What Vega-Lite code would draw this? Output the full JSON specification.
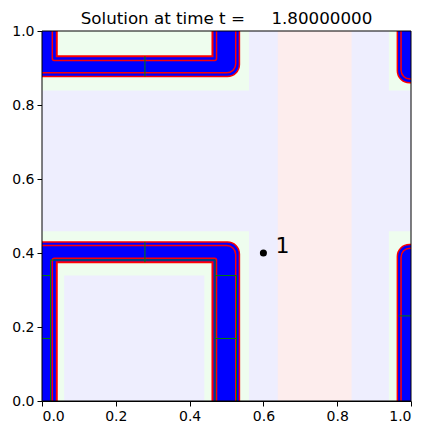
{
  "$schema": "https://vega.github.io/schema/vega-lite/v6.json",
  "width": 369,
  "height": 370,
  "autosize": "none",
  "padding": {"left": 42, "top": 31, "right": 21, "bottom": 34},
  "background": "white",
  "title": {
    "text": "Solution at time t = \u00a0\u00a0\u00a0\u00a01.80000000",
    "font": "DejaVu Sans",
    "fontSize": 16.7,
    "fontWeight": "normal",
    "color": "black",
    "anchor": "middle",
    "baseline": "alphabetic",
    "frame": "group",
    "offset": -17
  },
  "config": {
    "view": {"stroke": null},
    "axis": {
      "labelFont": "DejaVu Sans",
      "labelFontSize": 14,
      "labelColor": "black",
      "tickColor": "black",
      "domainColor": "black",
      "tickSize": 5,
      "tickWidth": 1,
      "domainWidth": 1,
      "labelPadding": 3,
      "grid": false,
      "zindex": 1
    }
  },
  "datasets": {
    "base": [{"x": 0, "x2": 1, "y": 0, "y2": 1}],
    "band": [{"x": 0.639, "x2": 0.839, "y": 0, "y2": 1}],
    "level2": [
      {"x": 0, "x2": 0.561, "y": 0, "y2": 0.459},
      {"x": 0, "x2": 0.561, "y": 0.839, "y2": 1},
      {"x": 0.94, "x2": 1, "y": 0, "y2": 0.459},
      {"x": 0.94, "x2": 1, "y": 0.839, "y2": 1}
    ],
    "outer": [
      {"x": -0.037, "x2": 0.535, "y": -0.123, "y2": 0.43},
      {"x": -0.037, "x2": 0.535, "y": 0.877, "y2": 1.43},
      {"x": 0.963, "x2": 1.535, "y": -0.14, "y2": 0.423},
      {"x": 0.963, "x2": 1.535, "y": 0.86, "y2": 1.423}
    ],
    "outer2": [
      {"x": -0.027, "x2": 0.525, "y": -0.113, "y2": 0.42},
      {"x": -0.027, "x2": 0.525, "y": 0.887, "y2": 1.42},
      {"x": 0.973, "x2": 1.525, "y": -0.13, "y2": 0.413},
      {"x": 0.973, "x2": 1.525, "y": 0.87, "y2": 1.413}
    ],
    "inner2": [
      {"x": 0.028, "x2": 0.473, "y": -0.08, "y2": 0.386},
      {"x": 0.028, "x2": 0.473, "y": 0.92, "y2": 1.386}
    ],
    "inner": [
      {"x": 0.04, "x2": 0.462, "y": -0.068, "y2": 0.375},
      {"x": 0.04, "x2": 0.462, "y": 0.932, "y2": 1.375}
    ],
    "core": [{"x": 0.06, "x2": 0.44, "y": 0, "y2": 0.339}],
    "gridlines": [
      {"x": 0.279, "x2": 0.279, "y": 0.375, "y2": 0.43},
      {"x": 0.279, "x2": 0.279, "y": 0.877, "y2": 0.932},
      {"x": 0, "x2": 0.023, "y": 0.339, "y2": 0.339},
      {"x": 0, "x2": 0.023, "y": 0.169, "y2": 0.169},
      {"x": 0.469, "x2": 0.527, "y": 0.339, "y2": 0.339},
      {"x": 0.469, "x2": 0.527, "y": 0.169, "y2": 0.169},
      {"x": 0.967, "x2": 1, "y": 0.23, "y2": 0.23},
      {"x": 0.023, "x2": 0.023, "y": 0, "y2": 0.381},
      {"x": 0.469, "x2": 0.469, "y": 0, "y2": 0.381},
      {"x": 0.023, "x2": 0.469, "y": 0.381, "y2": 0.381},
      {"x": 0.527, "x2": 0.527, "y": 0, "y2": 0.339}
    ],
    "gauge": [{"x": 0.6, "y": 0.4, "label": "1"}]
  },
  "encoding": {
    "x": {
      "field": "x",
      "type": "quantitative",
      "scale": {"domain": [0, 1], "nice": false, "zero": false},
      "axis": {"values": [0, 0.2, 0.4, 0.6, 0.8, 1], "format": ".1f", "title": null}
    },
    "y": {
      "field": "y",
      "type": "quantitative",
      "scale": {"domain": [0, 1], "nice": false, "zero": false},
      "axis": {"values": [0, 0.2, 0.4, 0.6, 0.8, 1], "format": ".1f", "title": null}
    }
  },
  "layer": [
    {
      "data": {"name": "base"},
      "mark": {"type": "rect", "fill": "#eeeefe", "clip": true},
      "encoding": {"x2": {"field": "x2"}, "y2": {"field": "y2"}}
    },
    {
      "data": {"name": "band"},
      "mark": {"type": "rect", "fill": "#fdeded", "clip": true},
      "encoding": {"x2": {"field": "x2"}, "y2": {"field": "y2"}}
    },
    {
      "data": {"name": "level2"},
      "mark": {"type": "rect", "fill": "#eefdee", "clip": true},
      "encoding": {"x2": {"field": "x2"}, "y2": {"field": "y2"}}
    },
    {
      "data": {"name": "outer"},
      "mark": {"type": "rect", "fill": "#0000ff", "stroke": "#ff0000", "strokeWidth": 1.5, "cornerRadius": 12, "clip": true},
      "encoding": {"x2": {"field": "x2"}, "y2": {"field": "y2"}}
    },
    {
      "data": {"name": "outer2"},
      "mark": {"type": "rect", "fill": null, "fillOpacity": 0, "stroke": "#ff0000", "strokeWidth": 1.5, "cornerRadius": 9, "clip": true},
      "encoding": {"x2": {"field": "x2"}, "y2": {"field": "y2"}}
    },
    {
      "data": {"name": "inner2"},
      "mark": {"type": "rect", "fill": null, "fillOpacity": 0, "stroke": "#ff0000", "strokeWidth": 1.5, "cornerRadius": 2, "clip": true},
      "encoding": {"x2": {"field": "x2"}, "y2": {"field": "y2"}}
    },
    {
      "data": {"name": "inner"},
      "mark": {"type": "rect", "fill": "#eefdee", "stroke": "#ff0000", "strokeWidth": 2, "clip": true},
      "encoding": {"x2": {"field": "x2"}, "y2": {"field": "y2"}}
    },
    {
      "data": {"name": "core"},
      "mark": {"type": "rect", "fill": "#eeeefe", "clip": true},
      "encoding": {"x2": {"field": "x2"}, "y2": {"field": "y2"}}
    },
    {
      "data": {"name": "gridlines"},
      "mark": {"type": "rule", "color": "#008000", "strokeWidth": 1, "clip": true},
      "encoding": {"x2": {"field": "x2"}, "y2": {"field": "y2"}}
    },
    {
      "data": {"name": "base"},
      "mark": {"type": "rect", "fill": null, "fillOpacity": 0, "stroke": "black", "strokeWidth": 1},
      "encoding": {"x2": {"field": "x2"}, "y2": {"field": "y2"}}
    },
    {
      "data": {"name": "gauge"},
      "mark": {"type": "point", "filled": true, "color": "black", "size": 50, "opacity": 1}
    },
    {
      "data": {"name": "gauge"},
      "mark": {"type": "text", "align": "left", "baseline": "alphabetic", "dx": 12, "dy": 0, "font": "DejaVu Sans", "fontSize": 22, "color": "black"},
      "encoding": {"text": {"field": "label"}}
    }
  ]
}
